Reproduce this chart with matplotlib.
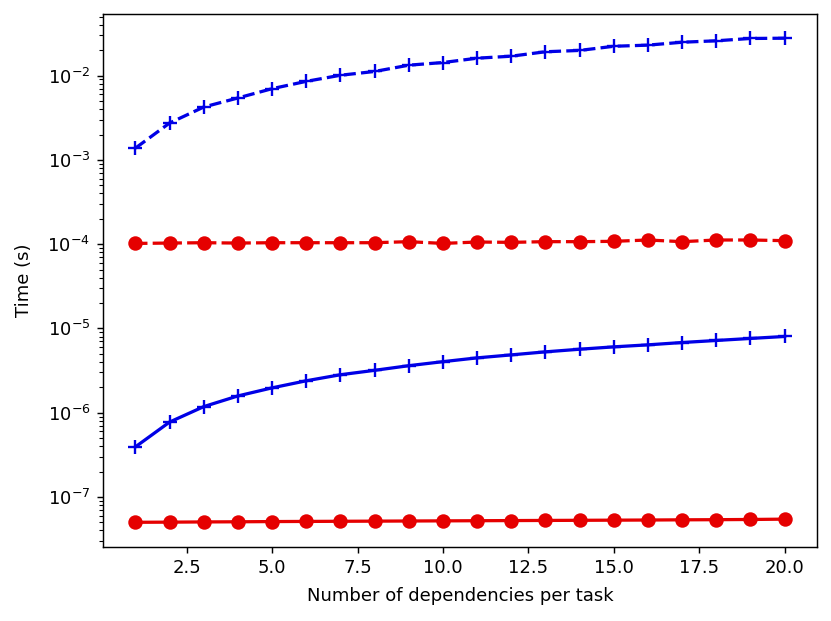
import matplotlib
matplotlib.use('Agg')
import matplotlib.pyplot as plt

# dependencies per task
deps = list(range(1, 21))

# timings (s)
blue_dashed = [1.38e-3, 2.74e-3, 4.24e-3, 5.43e-3, 7.0e-3, 8.55e-3, 1.01e-2, 1.12e-2, 1.33e-2, 1.43e-2,
               1.61e-2, 1.70e-2, 1.92e-2, 1.99e-2, 2.23e-2, 2.30e-2, 2.49e-2, 2.59e-2, 2.76e-2, 2.78e-2]
red_dashed = [1.02e-4, 1.03e-4, 1.04e-4, 1.03e-4, 1.04e-4, 1.04e-4, 1.04e-4, 1.04e-4, 1.07e-4, 1.02e-4,
              1.06e-4, 1.05e-4, 1.07e-4, 1.07e-4, 1.08e-4, 1.12e-4, 1.07e-4, 1.12e-4, 1.12e-4, 1.10e-4]
blue_solid = [3.93e-7, 7.74e-7, 1.18e-6, 1.58e-6, 1.97e-6, 2.39e-6, 2.82e-6, 3.18e-6, 3.61e-6, 4.03e-6,
              4.47e-6, 4.85e-6, 5.27e-6, 5.66e-6, 6.04e-6, 6.38e-6, 6.80e-6, 7.19e-6, 7.60e-6, 8.02e-6]
red_solid = [5.00e-8, 5.02e-8, 5.05e-8, 5.07e-8, 5.10e-8, 5.12e-8, 5.14e-8, 5.16e-8, 5.18e-8, 5.20e-8,
             5.22e-8, 5.24e-8, 5.26e-8, 5.28e-8, 5.30e-8, 5.32e-8, 5.35e-8, 5.37e-8, 5.40e-8, 5.45e-8]

blue = '#0000e6'
red = '#e50000'

fig = plt.figure(figsize=(831 / 130, 621 / 130), dpi=130)
ax = fig.add_axes([103 / 831, (621 - 546.5) / 621, (817 - 103) / 831, (546.5 - 14) / 621])

ax.plot(deps, blue_dashed, '--', color=blue, marker='+', markersize=8, mew=1.3, lw=1.8)
ax.plot(deps, red_dashed, '--', color=red, marker='o', markersize=7, lw=1.8)
ax.plot(deps, blue_solid, '-', color=blue, marker='+', markersize=8, mew=1.3, lw=1.8)
ax.plot(deps, red_solid, '-', color=red, marker='o', markersize=7, lw=1.8)

ax.set_yscale('log')
ax.set_xlabel('Number of dependencies per task', labelpad=5.5)
ax.set_ylabel('Time (s)', labelpad=8)

fig.savefig('out.png', dpi=130)
